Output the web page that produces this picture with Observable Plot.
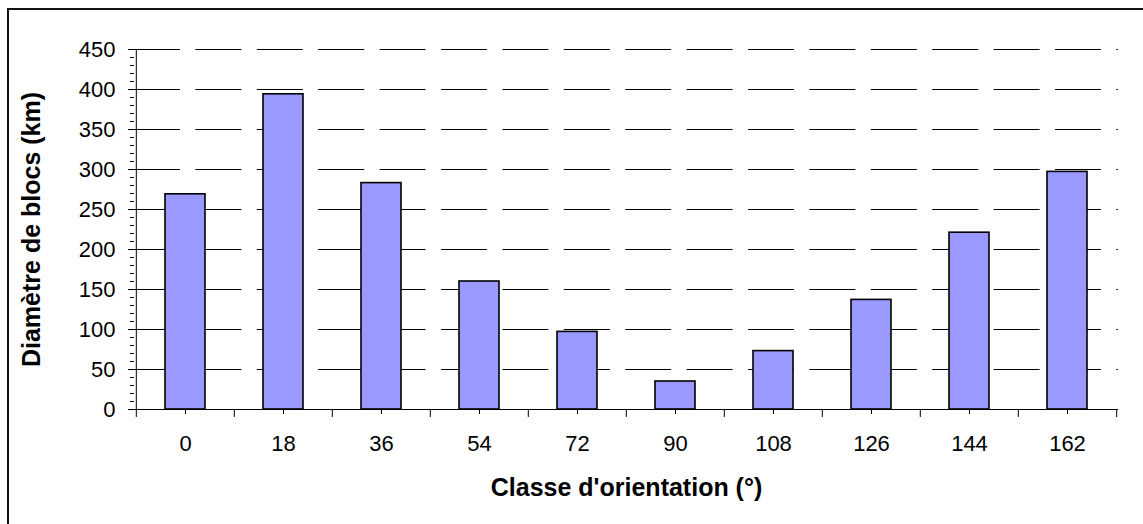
<!DOCTYPE html>
<html>
<head>
<meta charset="utf-8">
<script src="https://cdn.jsdelivr.net/npm/d3@7"></script>
<script src="https://cdn.jsdelivr.net/npm/@observablehq/plot@0.6"></script>
<style>
  html, body { margin: 0; padding: 0; background: #fff; }
  #wrap { position: relative; width: 1143px; height: 524px; overflow: hidden; background: #fff; }
  #chart { position: absolute; left: 0; top: 0; }
  #frame { position: absolute; left: 7px; top: 8px; width: 1300px; height: 700px; border: 2px solid #111; box-sizing: border-box; pointer-events: none; }
</style>
</head>
<body>
<div id="wrap">
  <div id="chart"></div>
  <div id="frame"></div>
</div>
<script>
// ---- data ----
const categories = [0, 18, 36, 54, 72, 90, 108, 126, 144, 162];
const values = [269, 394, 283, 160, 97, 35, 73, 137, 221, 297];
const yTicks = [0, 50, 100, 150, 200, 250, 300, 350, 400, 450];
const yMinorTicks = d3.range(0, 451, 10);
const xTitle = ["Classe d'orientation (°)"];
const yTitle = ["Diamètre de blocs (km)"];

const data = categories.map((c, i) => ({cls: c, val: values[i]}));

// ---- layout ----
const W = 1143, H = 524;
const ML = 134, MR = 25, MT = 49, MB = 115;
const step = (W - ML - MR) / categories.length;
const font = "'Liberation Sans', Arial, Helvetica, sans-serif";

const chart = Plot.plot({
  width: W,
  height: H,
  marginLeft: ML,
  marginRight: MR,
  marginTop: MT,
  marginBottom: MB,
  style: {background: "transparent", fontFamily: font, fontSize: "22px", color: "#000", overflow: "visible"},
  x: {type: "band", domain: categories, paddingInner: 0.593, paddingOuter: 0.2965, align: 0.5, label: null, axis: null},
  y: {domain: [0, 450], label: null, axis: null},
  marks: [
    // dashed gridlines
    Plot.ruleY(yTicks.filter(v => v > 0), {stroke: "#000", strokeWidth: 1, strokeDasharray: "46,15.4"}),
    // bars
    Plot.barY(data, {x: "cls", y: "val", fill: "#9999ff", stroke: "#000", strokeWidth: 1.6}),
    // baseline
    Plot.ruleY([0], {stroke: "#000", strokeWidth: 1}),
    // y axis line
    Plot.ruleX([categories[0]], {dx: -step / 2, stroke: "#000", strokeWidth: 1}),
    // y minor ticks
    Plot.axisY({ticks: yMinorTicks, tickSize: 4, tickFormat: () => "", stroke: "#000"}),
    // y major ticks + labels
    Plot.axisY({ticks: yTicks, tickSize: 6, tickPadding: 13, fontSize: 22, stroke: "#000", fill: "#000"}),
    // x center ticks + labels
    Plot.axisX({ticks: categories, tickSize: 5, tickPadding: 21, fontSize: 22, stroke: "#000", fill: "#000"}),
    // x category boundary ticks
    Plot.axisX({ticks: categories, tickSize: 8, tickFormat: () => "", dx: -step / 2, stroke: "#000"}),
    Plot.axisX({ticks: [categories[categories.length - 1]], tickSize: 8, tickFormat: () => "", dx: step / 2, stroke: "#000"}),
    // titles
    Plot.text(xTitle, {frameAnchor: "bottom", text: d => d, dy: 78, textAnchor: "middle", lineAnchor: "middle", fontSize: 25, fontWeight: "bold", fill: "#000"}),
    Plot.text(yTitle, {frameAnchor: "left", text: d => d, dx: -103, rotate: -90, textAnchor: "middle", lineAnchor: "middle", fontSize: 25, fontWeight: "bold", fill: "#000"})
  ]
});
document.getElementById("chart").appendChild(chart);
</script>
</body>
</html>
